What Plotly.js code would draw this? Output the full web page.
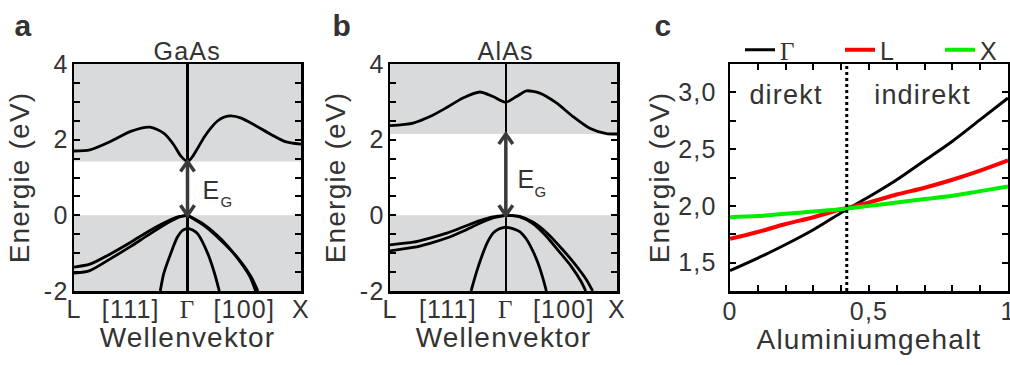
<!DOCTYPE html>
<html>
<head>
<meta charset="utf-8">
<script src="https://cdn.plot.ly/plotly-3.0.1.min.js"></script>
<style>
  html, body { margin: 0; padding: 0; background: #fff; }
  #chart { width: 1010px; height: 365px; }
  .main-svg text { letter-spacing: 1.2px; }
</style>
</head>
<body>
<div id="chart"></div>
<script>
// ---------- GaAs band structure (k: L = -1, Γ = 0, X = +1; energies in eV) ----------
const gaasGap = 1.42;
const gaasCondK = [-1.0, -0.86, -0.68, -0.50, -0.33, -0.21, -0.12, -0.06, 0, 0.044, 0.089, 0.148, 0.207, 0.267, 0.325, 0.385, 0.474, 0.59, 0.74, 0.86, 1.0];
const gaasCondE = [1.70, 1.73, 1.95, 2.22, 2.33, 2.17, 1.86, 1.57, 1.42, 1.55, 1.77, 2.07, 2.31, 2.50, 2.60, 2.63, 2.57, 2.39, 2.13, 1.95, 1.88];
const gaasHhLK = [-1.0, -0.86, -0.68, -0.50, -0.33, -0.15, -0.07, 0];
const gaasHhLE = [-1.37, -1.29, -1.02, -0.71, -0.40, -0.12, -0.03, 0];
const gaasLhLK = [-1.0, -0.86, -0.68, -0.50, -0.33, -0.15, -0.07, 0];
const gaasLhLE = [-1.53, -1.46, -1.15, -0.82, -0.49, -0.16, -0.04, 0];
const gaasHhXK = [0, 0.15, 0.30, 0.44, 0.55, 0.60];
const gaasHhXE = [0, -0.25, -0.64, -1.13, -1.62, -2.0];
const gaasLhXK = [0, 0.15, 0.30, 0.45, 0.56, 0.62];
const gaasLhXE = [0, -0.28, -0.68, -1.15, -1.62, -2.0];
const gaasSoLK = [0, -0.045, -0.09, -0.16, -0.21, -0.24];
const gaasSoLE = [-0.34, -0.40, -0.58, -1.11, -1.55, -2.0];
const gaasSoXK = [0, 0.045, 0.09, 0.18, 0.24, 0.28];
const gaasSoXE = [-0.34, -0.39, -0.49, -1.02, -1.55, -2.0];

// ---------- AlAs band structure (k: L = -1, Γ = 0, X = 0.96) ----------
const alasGap = 2.15;
const alasCondK = [-1.0, -0.80, -0.655, -0.51, -0.37, -0.224, -0.11, 0, 0.092, 0.178, 0.293, 0.437, 0.58, 0.724, 0.868, 0.96];
const alasCondE = [2.37, 2.44, 2.61, 2.85, 3.10, 3.26, 3.14, 2.99, 3.14, 3.29, 3.23, 2.97, 2.61, 2.30, 2.16, 2.15];
const alasHhLK = [-1.0, -0.80, -0.655, -0.51, -0.37, -0.224, -0.11, 0];
const alasHhLE = [-0.78, -0.71, -0.60, -0.47, -0.31, -0.14, -0.04, 0];
const alasLhLK = [-1.0, -0.80, -0.655, -0.51, -0.37, -0.224, -0.11, 0];
const alasLhLE = [-0.94, -0.85, -0.74, -0.60, -0.42, -0.21, -0.07, 0];
const alasHhXK = [0, 0.12, 0.23, 0.34, 0.45, 0.56, 0.65, 0.69];
const alasHhXE = [0, -0.04, -0.21, -0.52, -0.92, -1.33, -1.75, -2.0];
const alasLhXK = [0, 0.12, 0.24, 0.36, 0.48, 0.60, 0.70, 0.75];
const alasLhXE = [0, -0.03, -0.19, -0.48, -0.87, -1.30, -1.72, -2.0];
const alasSoLK = [0, -0.06, -0.11, -0.16, -0.20, -0.25, -0.30];
const alasSoLE = [-0.31, -0.36, -0.47, -0.72, -1.02, -1.47, -2.0];
const alasSoXK = [0, 0.06, 0.12, 0.18, 0.236, 0.28, 0.32, 0.35];
const alasSoXE = [-0.31, -0.35, -0.43, -0.64, -0.96, -1.28, -1.66, -2.0];

// ---------- Al(x)Ga(1-x)As band edges vs. aluminium content ----------
const alContent = [0, 0.1, 0.2, 0.3, 0.4, 0.5, 0.6, 0.7, 0.8, 0.9, 1.0];
const edgeGamma = [1.43, 1.54, 1.66, 1.79, 1.94, 2.08, 2.23, 2.40, 2.57, 2.76, 2.95];
const edgeL     = [1.71, 1.77, 1.84, 1.90, 1.97, 2.03, 2.10, 2.16, 2.23, 2.31, 2.40];
const edgeX     = [1.90, 1.91, 1.93, 1.95, 1.97, 2.00, 2.03, 2.06, 2.09, 2.13, 2.17];
const crossover = 0.42;

// ---------- axis labels ----------
const gammaSym = '<span style="font-family:\'Liberation Serif\', \'Times New Roman\', serif">Γ</span>';
const kTickVals = [-1, -0.5, 0, 0.5, 1];
const kTickValsAlAs = [-1, -0.5, 0, 0.5, 0.96];
const kTickText = ['L', '[111]', gammaSym, '[100]', 'X'];
const eTickVals = [-2, 0, 2, 4];
const eTickText = ['-2', '0', '2', '4'];
const xTickVals = [0, 0.5, 1];
const yTickValsC = [1.5, 2.0, 2.5, 3.0];

const FONT = 'Liberation Sans, Arial, Helvetica, sans-serif';
const TXT = '#333333';
const GRAY = '#d9dadb';
const ARROW = '#3a3a3a';

const band = { color: '#000', width: 2.8, shape: 'spline', smoothing: 0.7 };
function bandTrace(k, e, xa, ya) {
  return { x: k, y: e, xaxis: xa, yaxis: ya, type: 'scatter', mode: 'lines',
           line: band, showlegend: false, hoverinfo: 'skip' };
}

const traces = [
  bandTrace(gaasCondK, gaasCondE, 'x', 'y'),
  bandTrace(gaasHhLK, gaasHhLE, 'x', 'y'),
  bandTrace(gaasLhLK, gaasLhLE, 'x', 'y'),
  bandTrace(gaasHhXK, gaasHhXE, 'x', 'y'),
  bandTrace(gaasLhXK, gaasLhXE, 'x', 'y'),
  bandTrace(gaasSoLK, gaasSoLE, 'x', 'y'),
  bandTrace(gaasSoXK, gaasSoXE, 'x', 'y'),

  bandTrace(alasCondK, alasCondE, 'x2', 'y2'),
  bandTrace(alasHhLK, alasHhLE, 'x2', 'y2'),
  bandTrace(alasLhLK, alasLhLE, 'x2', 'y2'),
  bandTrace(alasHhXK, alasHhXE, 'x2', 'y2'),
  bandTrace(alasLhXK, alasLhXE, 'x2', 'y2'),
  bandTrace(alasSoLK, alasSoLE, 'x2', 'y2'),
  bandTrace(alasSoXK, alasSoXE, 'x2', 'y2'),

  { x: alContent, y: edgeGamma, xaxis: 'x3', yaxis: 'y3', type: 'scatter', mode: 'lines',
    name: gammaSym, line: { color: '#000000', width: 3, shape: 'spline' }, hoverinfo: 'skip' },
  { x: alContent, y: edgeL, xaxis: 'x3', yaxis: 'y3', type: 'scatter', mode: 'lines',
    name: 'L', line: { color: '#ff0000', width: 4, shape: 'spline' }, hoverinfo: 'skip' },
  { x: alContent, y: edgeX, xaxis: 'x3', yaxis: 'y3', type: 'scatter', mode: 'lines',
    name: 'X', line: { color: '#00ee00', width: 4, shape: 'spline' }, hoverinfo: 'skip' }
];

const W = 1010, H = 365;
const yDom = [(H - 291) / H, (H - 64) / H];

function frame(extra) {
  return Object.assign({
    showline: true, linecolor: '#000', linewidth: 2.5, mirror: 'ticks',
    showgrid: false, zeroline: false, fixedrange: true,
    tickfont: { family: FONT, size: 25, color: TXT },
    tickcolor: '#000', tickwidth: 2, ticklen: 6, ticklabeloverflow: 'allow'
  }, extra);
}
const titleFont = { family: FONT, size: 28, color: TXT };

function kAxis(domain, range, tickvals) {
  return frame({
    domain: domain, range: range, tickmode: 'array', tickvals: tickvals, ticktext: kTickText,
    ticks: '', ticklen: 0, mirror: true, zeroline: true, zerolinecolor: '#000', zerolinewidth: 2.5,
    ticklabelstandoff: -6,
    title: { text: 'Wellenvektor', font: titleFont, standoff: 2 }
  });
}
function eAxis(anchor) {
  return frame({
    domain: yDom, range: [-2, 4], tickmode: 'array', tickvals: eTickVals, ticktext: eTickText,
    ticks: 'inside', anchor: anchor, ticklabelstandoff: -2,
    minor: { tickmode: 'linear', tick0: 0, dtick: 0.5, ticks: 'inside', ticklen: 6, tickwidth: 2, tickcolor: '#000' },
    title: { text: 'Energie (eV)', font: titleFont, standoff: 9 }
  });
}

// double-headed band-gap arrow at Γ: shaft from the valence-band top to the conduction-band minimum,
// chevron heads drawn in pixel units around the two band edges
function gapArrow(xr, yr, gap) {
  const st = { color: ARROW, width: 3.5 };
  return [
    { type: 'line', xref: xr, yref: yr, x0: 0, x1: 0, y0: 0, y1: gap, line: st },
    { type: 'path', xref: xr, yref: yr, xsizemode: 'pixel', ysizemode: 'pixel', xanchor: 0, yanchor: gap,
      path: 'M-7,-10L0,0L7,-10', line: st },
    { type: 'path', xref: xr, yref: yr, xsizemode: 'pixel', ysizemode: 'pixel', xanchor: 0, yanchor: 0,
      path: 'M-7,10L0,0L7,10', line: st }
  ];
}

// "E" with a lowered, smaller "G" next to the gap arrow
function gapLabel(xr, yr, xE, yE, xG, yG) {
  return [
    { text: 'E', xref: xr, yref: yr, x: xE, y: yE, xanchor: 'left', yanchor: 'middle', showarrow: false,
      font: { family: FONT, size: 25, color: TXT } },
    { text: 'G', xref: xr, yref: yr, x: xG, y: yG, xanchor: 'left', yanchor: 'middle', showarrow: false,
      font: { family: FONT, size: 15, color: TXT } }
  ];
}

const layout = {
  width: W, height: H,
  margin: { l: 0, r: 0, t: 0, b: 0, autoexpand: false },
  paper_bgcolor: '#fff', plot_bgcolor: 'rgba(0,0,0,0)',
  separators: ',.',
  font: { family: FONT, color: TXT },
  xaxis: kAxis([74 / W, 301 / W], [-1, 1], kTickVals),
  yaxis: eAxis('x'),
  xaxis2: Object.assign(kAxis([390 / W, 617 / W], [-1, 0.96], kTickValsAlAs), { anchor: 'y2' }),
  yaxis2: eAxis('x2'),
  xaxis3: frame({
    domain: [730 / W, 1008 / W], range: [0, 1], anchor: 'y3',
    tickmode: 'array', tickvals: xTickVals, ticks: 'inside', ticklabelstandoff: -4,
    minor: { tickmode: 'linear', tick0: 0, dtick: 0.1, ticks: 'inside', ticklen: 6, tickwidth: 2, tickcolor: '#000' },
    title: { text: 'Aluminiumgehalt', font: titleFont, standoff: 5 }
  }),
  yaxis3: frame({
    domain: yDom, range: [1.25, 3.25], anchor: 'x3',
    tickmode: 'array', tickvals: yTickValsC, tickformat: '.1f', ticks: 'inside', ticklabelstandoff: 6,
    minor: { tickmode: 'linear', tick0: 1.25, dtick: 0.25, ticks: 'inside', ticklen: 6, tickwidth: 2, tickcolor: '#000' },
    title: { text: 'Energie (eV)', font: titleFont, standoff: 4 }
  }),
  showlegend: true,
  legend: {
    orientation: 'h', x: 740 / W, xanchor: 'left', y: (H - 50) / H, yanchor: 'middle',
    font: { family: FONT, size: 25, color: TXT }, bgcolor: 'rgba(0,0,0,0)',
    entrywidth: 55, entrywidthmode: 'pixels', itemwidth: 30, traceorder: 'normal'
  },
  shapes: [
    // valence and conduction band regions (shaded), band gap left white
    { type: 'rect', xref: 'x domain', yref: 'y', x0: 0, x1: 1, y0: -2, y1: 0, fillcolor: GRAY, line: { width: 0 }, layer: 'below' },
    { type: 'rect', xref: 'x domain', yref: 'y', x0: 0, x1: 1, y0: gaasGap, y1: 4, fillcolor: GRAY, line: { width: 0 }, layer: 'below' },
    { type: 'rect', xref: 'x2 domain', yref: 'y2', x0: 0, x1: 1, y0: -2, y1: 0, fillcolor: GRAY, line: { width: 0 }, layer: 'below' },
    { type: 'rect', xref: 'x2 domain', yref: 'y2', x0: 0, x1: 1, y0: alasGap, y1: 4, fillcolor: GRAY, line: { width: 0 }, layer: 'below' },
    // direct / indirect boundary
    { type: 'line', xref: 'x3', yref: 'y3 domain', x0: crossover, x1: crossover, y0: 0, y1: 1,
      line: { color: '#000', width: 3, dash: 'dot' } }
  ].concat(gapArrow('x', 'y', gaasGap), gapArrow('x2', 'y2', alasGap)),
  annotations: [
    { text: '<b>a</b>', xref: 'paper', yref: 'paper', x: 13 / W, y: (H - 25) / H, xanchor: 'left', yanchor: 'middle', showarrow: false, font: { family: FONT, size: 30, color: TXT } },
    { text: '<b>b</b>', xref: 'paper', yref: 'paper', x: 331 / W, y: (H - 25) / H, xanchor: 'left', yanchor: 'middle', showarrow: false, font: { family: FONT, size: 30, color: TXT } },
    { text: '<b>c</b>', xref: 'paper', yref: 'paper', x: 653 / W, y: (H - 25) / H, xanchor: 'left', yanchor: 'middle', showarrow: false, font: { family: FONT, size: 30, color: TXT } },

    { text: 'GaAs', xref: 'x', yref: 'paper', x: 0, y: (H - 51) / H, xanchor: 'center', yanchor: 'middle', showarrow: false, font: { family: FONT, size: 25, color: TXT } },
    { text: 'AlAs', xref: 'x2', yref: 'paper', x: 0, y: (H - 51) / H, xanchor: 'center', yanchor: 'middle', showarrow: false, font: { family: FONT, size: 25, color: TXT } },

    { text: 'direkt', xref: 'x3', yref: 'y3', x: 0.205, y: 2.98, xanchor: 'center', yanchor: 'middle', showarrow: false, font: { family: FONT, size: 27, color: TXT } },
    { text: 'indirekt', xref: 'x3', yref: 'y3', x: 0.695, y: 2.98, xanchor: 'center', yanchor: 'middle', showarrow: false, font: { family: FONT, size: 27, color: TXT } }
  ].concat(gapLabel('x', 'y', 0.12, 0.68, 0.275, 0.37), gapLabel('x2', 'y2', 0.085, 0.96, 0.235, 0.62))
};

Plotly.newPlot('chart', traces, layout, { staticPlot: true, displayModeBar: false });
</script>
</body>
</html>
